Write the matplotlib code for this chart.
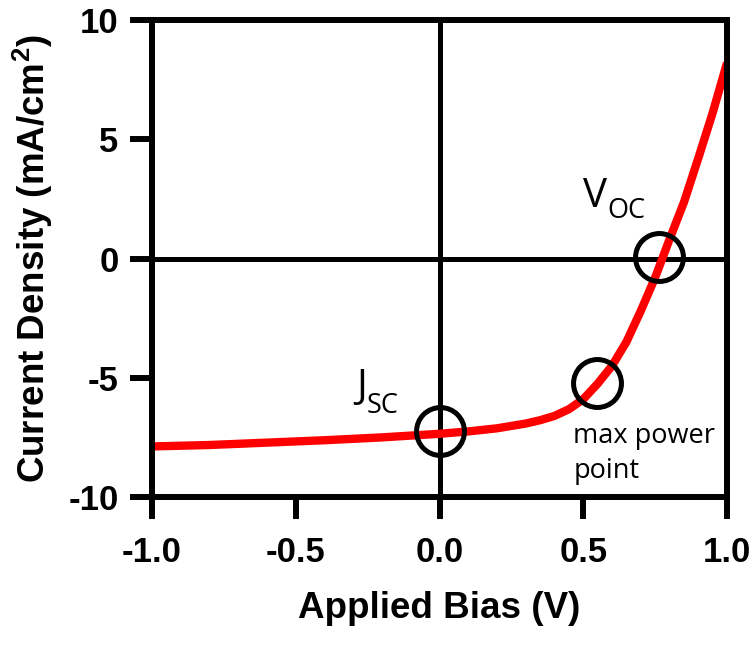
import matplotlib
matplotlib.use("Agg")
import matplotlib.pyplot as plt
import numpy as np

bias = [-1.0, -0.8, -0.6, -0.4, -0.2, 0.0, 0.1, 0.2, 0.3, 0.35, 0.4, 0.45, 0.5,
        0.55, 0.6, 0.65, 0.7, 0.75, 0.8, 0.85, 0.9, 0.95, 1.0]
current = [-7.88, -7.82, -7.72, -7.62, -7.5, -7.35, -7.25, -7.12, -6.92, -6.78, -6.6,
           -6.32, -5.9, -5.25, -4.5, -3.5, -2.2, -0.8, 0.8, 2.35, 4.2, 6.1, 8.2]
marker_x = [0.0, 0.763, 0.548]
marker_y = [-7.25, 0.08, -5.24]
xticks = [-1.0, -0.5, 0.0, 0.5, 1.0]
yticks = [-10, -5, 0, 5, 10]

plt.rcParams['mathtext.fontset'] = 'custom'
plt.rcParams['mathtext.bf'] = 'Liberation Sans:bold'

fig = plt.figure(figsize=(7.55, 6.48), dpi=100)
ax = fig.add_axes([152/755, 1-497/648, (727-152)/755, (497-20)/648])

ax.axhline(0, color='black', lw=3.6, zorder=1)
ax.axvline(0, color='black', lw=3.6, zorder=1)
ax.plot(bias, current, color='#ff0000', lw=6, solid_capstyle='butt', zorder=2)
ax.plot(marker_x, marker_y, 'o', ms=34.5, mfc='none', mec='black', mew=3.6, zorder=3)

ax.set_xlim(-1, 1)
ax.set_ylim(-10, 10)
ax.set_xticks(xticks)
ax.set_xticklabels([f"{v:.1f}" for v in xticks])
ax.set_yticks(yticks)
ax.set_yticklabels([str(v) for v in yticks])
for s in ax.spines.values():
    s.set_linewidth(4.3)
ax.tick_params(direction='out', length=16, width=4.3, labelsize=25, pad=8)
ax.tick_params(axis='x', pad=12)
for lab in ax.get_xticklabels() + ax.get_yticklabels():
    lab.set_fontfamily('Liberation Sans')
    lab.set_fontweight('bold')

ax.set_xlabel('Applied Bias (V)', fontsize=26.5, fontweight='bold', family='Liberation Sans', labelpad=16)
ax.set_ylabel(r'Current Density (mA/cm$^{\mathbf{2}}$)', fontsize=26.5, fontweight='bold',
              family='Liberation Sans', labelpad=10)

ax.text(0.5, 2.18, 'V', fontsize=29, family='Open Sans', ha='left', va='baseline')
ax.text(0.583, 1.68, 'OC', fontsize=19.5, family='Open Sans', ha='left', va='baseline')
ax.text(-0.29, -5.83, 'J', fontsize=29, family='Open Sans', ha='left', va='baseline')
ax.text(-0.252, -6.46, 'SC', fontsize=19.5, family='Open Sans', ha='left', va='baseline')
ax.text(0.465, -6.85, 'max power\npoint', fontsize=19.5, family='Open Sans', ha='left', va='top',
        linespacing=1.35)

fig.savefig('out.png', dpi=100)
